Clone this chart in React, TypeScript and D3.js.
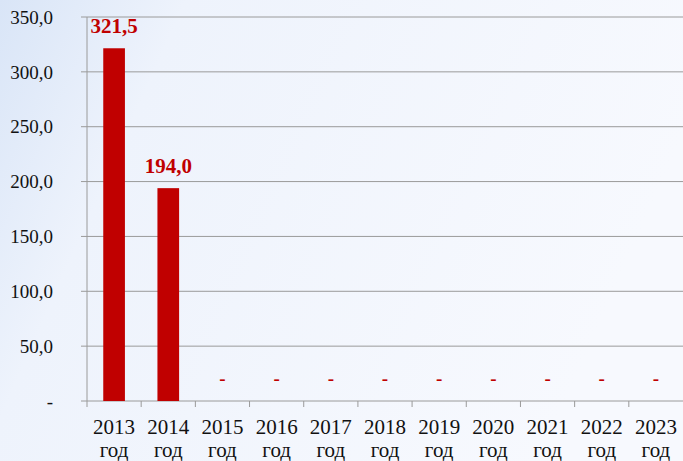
import React from "react";
import * as d3 from "d3";

const categories = ["2013", "2014", "2015", "2016", "2017", "2018", "2019", "2020", "2021", "2022", "2023"];
const values = [321.5, 194.0, 0, 0, 0, 0, 0, 0, 0, 0, 0];
const yTicks = [0, 50, 100, 150, 200, 250, 300, 350];

const W = 683, H = 461;
const left = 87, right = 683, top = 17, bottom = 401;

const fmt = (v: number) => (v === 0 ? "-" : v.toFixed(1).replace(".", ","));

export default function App() {
  const x = d3.scaleBand<string>().domain(categories).range([left, right]).paddingInner(0).paddingOuter(0);
  const y = d3.scaleLinear().domain([0, 350]).range([bottom, top]);
  const bw = x.bandwidth() * 0.4;
  const font = "'Liberation Serif', 'Times New Roman', serif";
  return (
    <svg width={W} height={H} style={{ position: "absolute", left: 0, top: 0 }}>
      <defs>
        <linearGradient id="bg" x1="0" y1="0" x2="1" y2="0.3">
          <stop offset="0" stopColor="#d9e5f7" />
          <stop offset="0.25" stopColor="#eef3fc" />
          <stop offset="1" stopColor="#f7f9fe" />
        </linearGradient>
      </defs>
      <rect x={0} y={0} width={W} height={H} fill="url(#bg)" />
      {yTicks.map((t) => (
        <g key={t}>
          {t > 0 && <line x1={left - 6} x2={right} y1={y(t)} y2={y(t)} stroke="#9a9a9a" strokeWidth={1} />}
          <text x={53} y={y(t)} dy="0.35em" textAnchor="end" fontFamily={font} fontSize={19} fill="#111">
            {fmt(t)}
          </text>
        </g>
      ))}
      <line x1={left} x2={left} y1={top} y2={bottom} stroke="#9a9a9a" />
      <line x1={left - 6} x2={right} y1={bottom} y2={bottom} stroke="#9a9a9a" />
      {categories.map((c) => (
        <line key={"t" + c} x1={x(c)!} x2={x(c)!} y1={bottom} y2={bottom + 6} stroke="#9a9a9a" />
      ))}
      {categories.map((c, i) => {
        const cx = x(c)! + x.bandwidth() / 2;
        const v = values[i];
        return (
          <g key={c}>
            {v > 0 && <rect x={cx - bw / 2} y={y(v)} width={bw} height={bottom - y(v)} fill="#c00000" />}
            <text
              x={cx}
              y={v > 0 ? y(v) - 15 : y(0) - 16}
              textAnchor="middle"
              fontFamily={font}
              fontWeight="bold"
              fontSize={v > 0 ? 21 : 19}
              fill="#c00000"
            >
              {fmt(v)}
            </text>
            <text x={cx} y={434} textAnchor="middle" fontFamily={font} fontSize={21} fill="#111">
              {c}
            </text>
            <text x={cx} y={457} textAnchor="middle" fontFamily={font} fontSize={21} fill="#111">
              год
            </text>
          </g>
        );
      })}
    </svg>
  );
}
